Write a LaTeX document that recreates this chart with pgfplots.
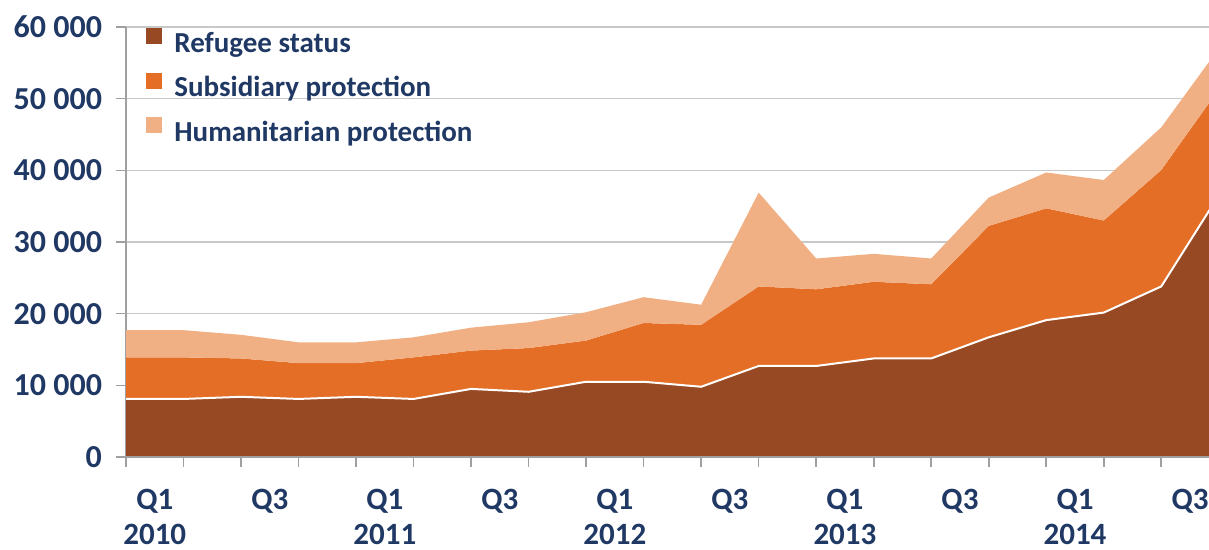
\documentclass[border=0pt]{standalone}
\usepackage{fontspec}
\setmainfont{Carlito}
\usepackage{pgfplots}
\usepackage{pgfplotstable}
\pgfplotsset{compat=1.18}
\definecolor{refc}{RGB}{150,73,34}
\definecolor{subc}{RGB}{228,110,38}
\definecolor{humc}{RGB}{240,176,132}
\definecolor{navy}{RGB}{31,56,100}
\definecolor{gridc}{RGB}{200,200,200}
\definecolor{axc}{RGB}{160,160,160}
\pgfplotstableread{
x ref sub hum
0 8100 5800 3800
1 8100 5800 3800
2 8400 5350 3300
3 8100 5000 2900
4 8400 4700 2900
5 8100 5800 2800
6 9500 5350 3200
7 9100 6100 3600
8 10500 5750 3950
9 10500 8200 3600
10 9800 8650 2800
11 12700 11100 13100
12 12700 10700 4300
13 13750 10700 3900
14 13750 10350 3600
15 16700 15550 3950
16 19100 15600 5000
17 20150 12850 5650
18 23800 16250 5950
19 36500 14800 5700
}\data
\begin{document}
\begin{tikzpicture}
\useasboundingbox (0,0) rectangle (604.5bp,275bp);
\begin{axis}[
  at={(63bp,46.5bp)}, anchor=south west,
  scale only axis, width=541.5bp, height=215bp,
  xmin=0, xmax=18.83, ymin=0, ymax=60000,
  scaled y ticks=false,
  axis lines*=left,
  axis line style={axc, line width=1bp},
  tick align=outside, major tick length=5bp,
  tick style={axc, line width=0.8bp},
  ytick={0,10000,20000,30000,40000,50000,60000},
  yticklabels={0,10 000,20 000,30 000,40 000,50 000,60 000},
  ymajorgrids, grid style={gridc, line width=0.7bp},
  xtick={0,...,19}, xticklabels={},
  extra x ticks={0.5,2.5,4.5,6.5,8.5,10.5,12.5,14.5,16.5,18.5},
  extra x tick labels={{Q1\\2010},Q3,{Q1\\2011},Q3,{Q1\\2012},Q3,{Q1\\2013},Q3,{Q1\\2014},Q3},
  extra x tick style={major tick length=0pt, grid=none},
  yticklabel style={font=\fontsize{16bp}{18bp}\selectfont\bfseries, text=navy, xshift=-3.5bp},
  xticklabel style={font=\fontsize{15.5bp}{17.5bp}\selectfont\bfseries, text=navy, align=center, anchor=north, yshift=-12.5bp},
  legend image code/.code={\fill[#1] (0bp,0bp) rectangle (8bp,8bp);},
  legend style={draw=none, fill=none, at={(0,1)}, anchor=north west, xshift=10bp, yshift=-0.5bp,
    inner sep=0pt, row sep=7.2bp, column sep=6bp,
    nodes={inner sep=0pt, text height=11bp, text depth=3bp},
    font=\fontsize{14.5bp}{17bp}\selectfont\bfseries, text=navy},
  legend cell align=left,
]
\addplot[stack plots=y, fill=refc, draw=none] table[x=x,y=ref]{\data} \closedcycle;
\addlegendentry{Refugee status}
\addplot[stack plots=y, fill=subc, draw=none] table[x=x,y=sub]{\data} \closedcycle;
\addlegendentry{Subsidiary protection}
\addplot[stack plots=y, fill=humc, draw=none] table[x=x,y=hum]{\data} \closedcycle;
\addlegendentry{Humanitarian protection}
\addplot[white, line width=1bp, forget plot] table[x=x,y=ref]{\data};
\draw[axc, line width=1bp] (axis cs:0,0) -- (axis cs:18.83,0);
\end{axis}
\end{tikzpicture}
\end{document}
